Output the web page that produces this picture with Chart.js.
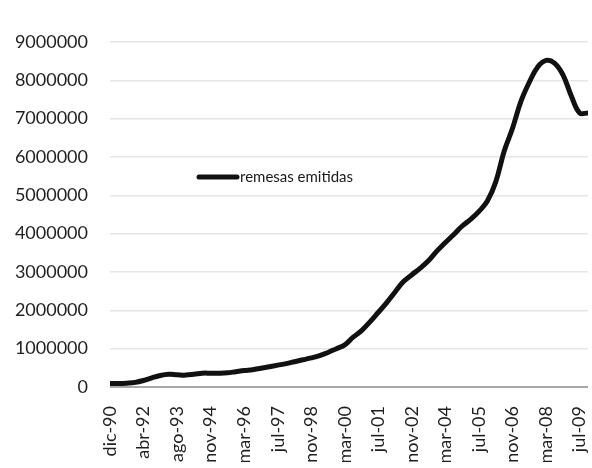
<!DOCTYPE html>
<html>
<head>
<meta charset="utf-8">
<script src="https://cdn.jsdelivr.net/npm/chart.js@4/dist/chart.umd.min.js"></script>
<style>
  html, body { margin: 0; padding: 0; background: #fff; }
  #wrap { width: 592px; height: 468px; position: relative; }
</style>
</head>
<body>
<div id="wrap"><canvas id="c" width="592" height="468"></canvas></div>
<script>
// Categories (every 4 months; every 4th one is shown as a tick label)
const categories = [
  "dic-90","abr-91","ago-91","dic-91","abr-92","ago-92","dic-92","abr-93",
  "ago-93","nov-93","mar-94","jul-94","nov-94","mar-95","jul-95","nov-95",
  "mar-96","jul-96","nov-96","mar-97","jul-97","nov-97","mar-98","jul-98",
  "nov-98","mar-99","jul-99","nov-99","mar-00","jul-00","nov-00","mar-01",
  "jul-01","nov-01","mar-02","jul-02","nov-02","mar-03","jul-03","nov-03",
  "mar-04","jul-04","nov-04","mar-05","jul-05","nov-05","mar-06","jul-06",
  "nov-06","mar-07","jul-07","nov-07","mar-08","jul-08","nov-08","mar-09",
  "jul-09","nov-09"
];
// Series values
const remesasEmitidas = [
  90000, 90000, 100000, 120000, 170000, 240000, 300000, 330000,
  320000, 310000, 330000, 360000, 360000, 360000, 370000, 400000,
  430000, 450000, 490000, 530000, 570000, 610000, 660000, 710000,
  760000, 820000, 900000, 1000000, 1100000, 1300000, 1470000, 1700000,
  1950000, 2200000, 2480000, 2750000, 2930000, 3100000, 3300000, 3550000,
  3770000, 3980000, 4200000, 4370000, 4580000, 4850000, 5350000, 6150000,
  6750000, 7450000, 7950000, 8350000, 8520000, 8450000, 8150000, 7600000,
  7150000, 7150000
];
const seriesName = "remesas emitidas";
const yTicks = { min: 0, max: 9000000, step: 1000000 };
const tickEvery = 4;

const FONT = "Lato, 'Open Sans', sans-serif";

const insideLegend = {
  id: 'insideLegend',
  afterDraw(chart) {
    const ctx = chart.ctx;
    const x0 = 197, y0 = 177;
    ctx.save();
    ctx.strokeStyle = '#111';
    ctx.lineWidth = 5;
    ctx.lineCap = 'round';
    ctx.beginPath();
    ctx.moveTo(x0 + 2, y0);
    ctx.lineTo(x0 + 40, y0);
    ctx.stroke();
    ctx.fillStyle = '#1a1a1a';
    ctx.font = '15px ' + FONT;
    ctx.textBaseline = 'middle';
    ctx.textAlign = 'left';
    ctx.fillText(chart.data.datasets[0].label, x0 + 43, y0);
    ctx.restore();
  }
};

new Chart(document.getElementById('c'), {
  type: 'line',
  data: {
    labels: categories,
    datasets: [{
      label: seriesName,
      data: remesasEmitidas,
      borderColor: '#111',
      borderWidth: 5,
      pointRadius: 0,
      tension: 0.4,
      fill: false
    }]
  },
  options: {
    responsive: false,
    animation: false,
    layout: { padding: { left: 14, right: 4, top: 42, bottom: 6 } },
    plugins: { legend: { display: false }, tooltip: { enabled: false } },
    scales: {
      x: {
        offset: false,
        grid: { display: false, drawTicks: false },
        border: { display: false },
        afterFit: function (s) { s.paddingLeft = 0; s.paddingRight = 0; s.height = 75; },
        ticks: {
          autoSkip: false,
          minRotation: 90,
          maxRotation: 90,
          padding: 19,
          color: '#1f1f1f',
          font: { family: FONT, size: 18 },
          callback: function (v, i) { return i % tickEvery === 0 ? categories[i] : null; }
        }
      },
      y: {
        min: yTicks.min,
        max: yTicks.max,
        border: { display: false },
        afterFit: function (s) { s.paddingTop = 0; s.paddingBottom = 0; s.width = 96; },
        grid: {
          drawTicks: false,
          lineWidth: function (c) { return c.tick && c.tick.value === 0 ? 2 : 1.5; },
          color: function (c) { return c.tick && c.tick.value === 0 ? '#a8a8a8' : '#e6e6e6'; }
        },
        ticks: {
          stepSize: yTicks.step,
          padding: 22,
          color: '#1f1f1f',
          font: { family: FONT, size: 18 },
          callback: function (v) { return String(v); }
        }
      }
    }
  },
  plugins: [insideLegend]
});
</script>
</body>
</html>
